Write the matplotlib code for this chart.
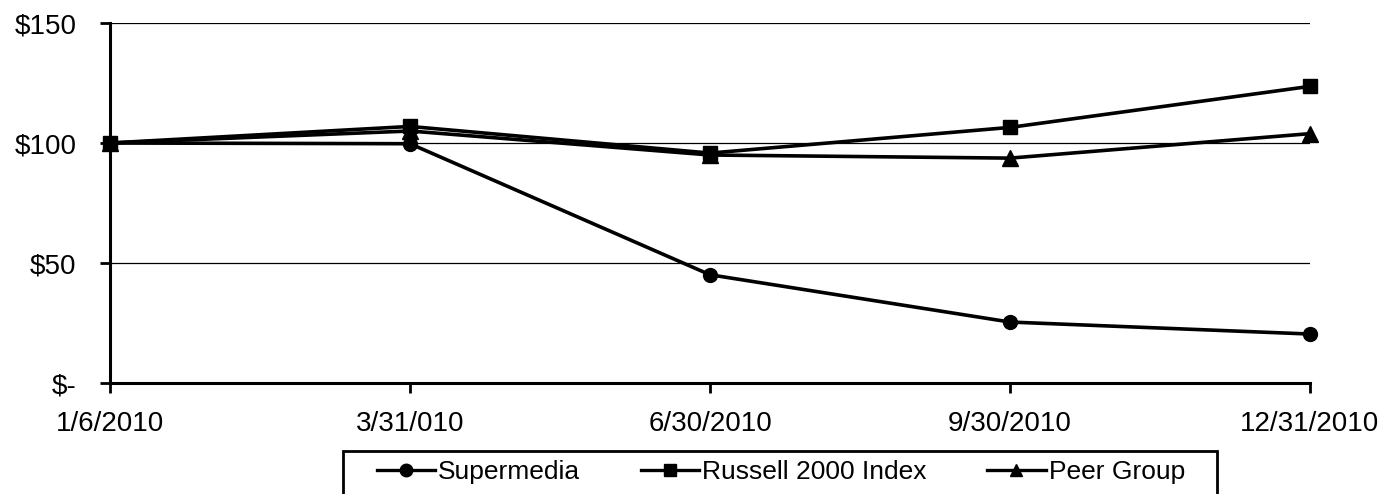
import matplotlib
matplotlib.use("Agg")
import matplotlib.pyplot as plt
from matplotlib.patches import Rectangle

dates = ["1/6/2010", "3/31/010", "6/30/2010", "9/30/2010", "12/31/2010"]
supermedia = [100, 99.7, 45.1, 25.4, 20.4]
russell = [100, 106.9, 95.8, 106.5, 123.6]
peer = [100, 105.0, 95.0, 93.7, 103.9]
yticks = [0, 50, 100, 150]
ytick_labels = ["$-", "$50", "$100", "$150"]

plt.rcParams["font.family"] = ["Liberation Sans", "DejaVu Sans"]

W, H = 1383, 494
fig = plt.figure(figsize=(W / 100, H / 100), dpi=100)
ax = fig.add_axes([110 / W, 1 - 383 / H, 1200 / W, 360 / H])

x = list(range(len(dates)))
lw = 2.6
ax.plot(x, supermedia, color="black", lw=lw, marker="o", ms=10, label="Supermedia", clip_on=False, zorder=3)
ax.plot(x, russell, color="black", lw=lw, marker="s", ms=10, label="Russell 2000 Index", clip_on=False, zorder=3)
ax.plot(x, peer, color="black", lw=lw, marker="^", ms=11, label="Peer Group", clip_on=False, zorder=3)

ax.set_xlim(0, 4)
ax.set_ylim(0, 150)
ax.set_yticks(yticks)
ax.set_yticklabels(ytick_labels)
ax.set_xticks(x)
ax.set_xticklabels(dates)

for v in [50, 100, 150]:
    ax.axhline(v, color="black", lw=0.9, zorder=1)

for s in ["top", "right"]:
    ax.spines[s].set_visible(False)
for s in ["left", "bottom"]:
    ax.spines[s].set_linewidth(2.2)
    ax.spines[s].set_color("black")

ax.tick_params(axis="y", direction="out", length=7, width=2, pad=17, labelsize=20)
ax.tick_params(axis="x", direction="out", length=7, width=2, pad=13, labelsize=20)

# legend frame
fig.patches.append(Rectangle((343 / W, -0.05), (1217 - 343) / W, 0.05 + 1 - 451 / H,
                             transform=fig.transFigure, fill=False, edgecolor="black",
                             lw=2, clip_on=False))

leg = fig.legend(loc="center left", bbox_to_anchor=(377 / W, 1 - 472 / H), ncol=3,
                 frameon=False, fontsize=19, handlelength=2.2, handletextpad=0.12,
                 columnspacing=2.3, borderaxespad=0, borderpad=0)
for h in leg.legend_handles:
    h.set_linewidth(2.4)
    h.set_markersize(9)

fig.savefig("out.png", dpi=100)
